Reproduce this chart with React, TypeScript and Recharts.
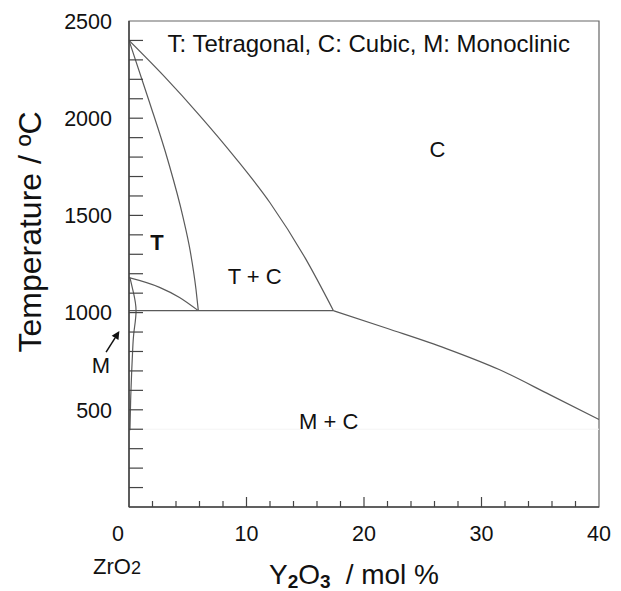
import React from 'react';
import {
  ComposedChart,
  Line,
  XAxis,
  YAxis,
  ReferenceArea,
  ReferenceLine,
  ReferenceDot,
} from 'recharts';

const FONT = '"Liberation Sans", Arial, Helvetica, sans-serif';
const LINE = '#5a5a5a';
const AXIS = '#444444';
const INK = '#111111';

// Phase boundaries: x = Y2O3 (mol %), t = temperature (°C)
const cubicUpper = [
  { x: 0, t: 2400 },
  { x: 3, t: 2215 },
  { x: 6, t: 2015 },
  { x: 9, t: 1800 },
  { x: 12, t: 1565 },
  { x: 15, t: 1280 },
  { x: 17.4, t: 1010 },
];
const tetragonalSolvus = [
  { x: 0, t: 2400 },
  { x: 1.7, t: 2090 },
  { x: 3.3, t: 1785 },
  { x: 4.6, t: 1490 },
  { x: 5.2, t: 1320 },
  { x: 5.7, t: 1120 },
  { x: 5.9, t: 1010 },
];
const eutectoid = [
  { x: 0, t: 1010 },
  { x: 17.4, t: 1010 },
];
const tetragonalLower = [
  { x: 0, t: 1180 },
  { x: 2.6, t: 1130 },
  { x: 4.3, t: 1078 },
  { x: 5.9, t: 1010 },
];
const monoclinicBoundary = [
  { x: 0.08, t: 1180 },
  { x: 0.37, t: 1105 },
  { x: 0.6, t: 1010 },
  { x: 0.42, t: 900 },
  { x: 0.31, t: 805 },
  { x: 0.23, t: 700 },
  { x: 0.14, t: 550 },
  { x: 0.08, t: 395 },
];
const cubicLower = [
  { x: 17.4, t: 1010 },
  { x: 22, t: 918 },
  { x: 27, t: 815 },
  { x: 31.5, t: 707 },
  { x: 35.8, t: 578 },
  { x: 40, t: 450 },
];

// Ticks and labels
const xTicks = [0, 2, 4, 6, 8, 10, 12, 14, 16, 18, 20, 22, 24, 26, 28, 30, 32, 34, 36, 38, 40];
const xLabels = [0, 10, 20, 30, 40];
const yTicks = [
  0, 100, 200, 300, 400, 500, 600, 700, 800, 900, 1000, 1100, 1200, 1300, 1400, 1500,
  1600, 1700, 1800, 1900, 2000, 2100, 2200, 2300, 2400, 2500,
];
const yLabels = [500, 1000, 1500, 2000, 2500];

// Region / note labels (data coordinates)
const notes = [
  { x: 20.4, t: 2387, text: 'T: Tetragonal, C: Cubic, M: Monoclinic', bold: false, size: 24 },
  { x: 26.25, t: 1843, text: 'C', bold: false, size: 22 },
  { x: 2.38, t: 1365, text: 'T', bold: true, size: 22 },
  { x: 10.7, t: 1186, text: 'T + C', bold: false, size: 22 },
  { x: 17.0, t: 441, text: 'M + C', bold: false, size: 22 },
  { x: -2.38, t: 729, text: 'M', bold: false, size: 22 },
];
const arrowFrom = { x: -1.95, t: 797 };
const arrowTo = { x: -0.82, t: 905 };
const artifactLine = 400;

const YTick = (props: any) => {
  const { x, y, payload } = props;
  const v = payload.value;
  return (
    <g>
      {v > 0 && v < 2500 && (
        <line x1={x} y1={y} x2={x + 14} y2={y} stroke={AXIS} strokeWidth={1.2} />
      )}
      {yLabels.includes(v) && (
        <text x={x - 17} y={y} dy="0.36em" textAnchor="end" fontSize={21.5} fontFamily={FONT} fill={INK}>
          {v}
        </text>
      )}
    </g>
  );
};

const XTick = (props: any) => {
  const { x, y, payload } = props;
  const v = payload.value;
  const major = v % 10 === 0;
  return (
    <g>
      {v > 0 && v < 40 && (
        <line x1={x} y1={y} x2={x} y2={y - (major ? 10 : 6)} stroke={AXIS} strokeWidth={1.2} />
      )}
      {xLabels.includes(v) && (
        <text
          x={x + (v === 0 ? -11 : 0)}
          y={y + 26}
          dy="0.36em"
          textAnchor="middle"
          fontSize={21.5}
          fontFamily={FONT}
          fill={INK}
        >
          {v}
        </text>
      )}
    </g>
  );
};

const XTitle = (props: any) => {
  const vb = props.viewBox || { x: 129, y: 507 };
  return (
    <g>
      <text x={vb.x + 140} y={vb.y + 77} fontSize={28} fontFamily={FONT} fill={INK}>
        Y
        <tspan fontSize={19} fontWeight="bold" dy={4}>2</tspan>
        <tspan dy={-4}>O</tspan>
        <tspan fontSize={19} fontWeight="bold" dy={4}>3</tspan>
        <tspan dy={-4} dx={15}>/ mol %</tspan>
      </text>
      <text x={vb.x - 12} y={vb.y + 67} textAnchor="middle" fontSize={22} fontFamily={FONT} fill={INK}>
        ZrO<tspan fontSize={18}>2</tspan>
      </text>
    </g>
  );
};

const YTitle = () => {
  const cx = 30;
  const cy = 232;
  return (
    <text
      x={cx}
      y={cy}
      transform={`rotate(-90 ${cx} ${cy})`}
      textAnchor="middle"
      dominantBaseline="central"
      fontSize={32}
      fontFamily={FONT}
      fill={INK}
    >
      Temperature / ºC
    </text>
  );
};

const Arrow = (props: any) => {
  const { x1, y1, x2, y2 } = props;
  if ([x1, y1, x2, y2].some((v) => typeof v !== 'number' || isNaN(v))) return null;
  const ang = Math.atan2(y2 - y1, x2 - x1);
  const L = 8;
  const W = 4;
  const bx = x2 - L * Math.cos(ang);
  const by = y2 - L * Math.sin(ang);
  const px = -Math.sin(ang) * W;
  const py = Math.cos(ang) * W;
  return (
    <g>
      <line x1={x1} y1={y1} x2={bx} y2={by} stroke={INK} strokeWidth={1.5} />
      <polygon points={`${x2},${y2} ${bx + px},${by + py} ${bx - px},${by - py}`} fill={INK} />
    </g>
  );
};

const seriesProps = {
  dataKey: 't',
  stroke: LINE,
  strokeWidth: 1.2,
  dot: false,
  activeDot: false,
  isAnimationActive: false,
  legendType: 'none' as const,
};

export default function App() {
  return (
    <div style={{ position: 'absolute', left: 0, top: 0, width: 621, height: 591, background: '#fff' }}>
      <ComposedChart width={621} height={591} margin={{ top: 21, right: 22, left: 0, bottom: 0 }}>
        <XAxis
          type="number"
          dataKey="x"
          domain={[0, 40]}
          ticks={xTicks}
          interval={0}
          allowDataOverflow
          tickSize={0}
          tickMargin={0}
          height={84}
          tick={<XTick />}
          axisLine={{ stroke: AXIS, strokeWidth: 1.5 }}
          tickLine={false}
          label={{ content: <XTitle /> }}
        />
        <YAxis
          type="number"
          domain={[0, 2500]}
          ticks={yTicks}
          interval={0}
          allowDataOverflow
          tickSize={0}
          tickMargin={0}
          width={129}
          tick={<YTick />}
          axisLine={{ stroke: AXIS, strokeWidth: 1.5 }}
          tickLine={false}
          label={{ content: <YTitle /> }}
        />
        <ReferenceArea
          x1={0}
          x2={40}
          y1={0}
          y2={2500}
          fill="#ffffff"
          fillOpacity={0}
          stroke="#666666"
          strokeWidth={1.2}
        />
        <ReferenceLine y={artifactLine} stroke="#f4f4f4" strokeWidth={1} />
        <Line data={cubicUpper} type="monotone" {...seriesProps} />
        <Line data={tetragonalSolvus} type="monotone" {...seriesProps} />
        <Line data={eutectoid} type="linear" {...seriesProps} />
        <Line data={tetragonalLower} type="monotone" {...seriesProps} />
        <Line data={monoclinicBoundary} type="natural" {...seriesProps} />
        <Line data={cubicLower} type="monotone" {...seriesProps} />
        <ReferenceLine
          segment={[
            { x: arrowFrom.x, y: arrowFrom.t },
            { x: arrowTo.x, y: arrowTo.t },
          ]}
          ifOverflow="visible"
          shape={(p: any) => <Arrow {...p} />}
        />
        {notes.map((n, i) => (
          <ReferenceDot
            key={i}
            x={n.x}
            y={n.t}
            r={0}
            fill="none"
            stroke="none"
            ifOverflow="visible"
            label={{
              content: (p: any) => {
                const vb = p.viewBox || {};
                const cx = (vb.x ?? 0) + (vb.width ?? 0) / 2;
                const cy = (vb.y ?? 0) + (vb.height ?? 0) / 2;
                return (
                  <text
                    x={cx}
                    y={cy}
                    dy="0.36em"
                    textAnchor="middle"
                    fontSize={n.size}
                    fontWeight={n.bold ? 'bold' : 'normal'}
                    fontFamily={FONT}
                    fill={INK}
                  >
                    {n.text}
                  </text>
                );
              },
            }}
          />
        ))}
      </ComposedChart>
    </div>
  );
}
